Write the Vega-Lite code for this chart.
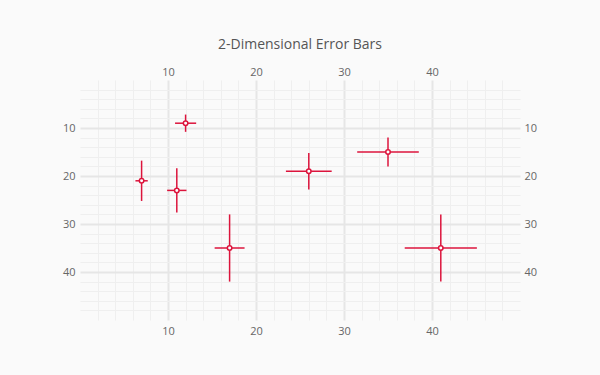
{
  "$schema": "https://vega.github.io/schema/vega-lite/v6.json",
  "width": 440,
  "height": 240,
  "autosize": "none",
  "padding": {"left": 80, "top": 80, "right": 80, "bottom": 55},
  "background": "#fafafa",
  "title": {"text": "2-Dimensional Error Bars", "font": "Open Sans", "fontSize": 14, "fontWeight": "normal", "color": "#555555", "anchor": "middle", "offset": 14},
  "config": {
    "view": {"stroke": null},
    "axis": {"labelFont": "Open Sans", "labelFontSize": 11, "labelColor": "#666666", "domain": false, "ticks": false, "title": null}
  },
  "data": {"values": [
    {"x": 12, "y": 9, "xlo": 10.8, "xhi": 13.2, "ylo": 7.2, "yhi": 10.8},
    {"x": 7, "y": 21, "xlo": 6.3, "xhi": 7.7, "ylo": 16.8, "yhi": 25.2},
    {"x": 11, "y": 23, "xlo": 9.9, "xhi": 12.1, "ylo": 18.4, "yhi": 27.6},
    {"x": 17, "y": 35, "xlo": 15.3, "xhi": 18.7, "ylo": 28, "yhi": 42},
    {"x": 26, "y": 19, "xlo": 23.4, "xhi": 28.6, "ylo": 15.2, "yhi": 22.8},
    {"x": 35, "y": 15, "xlo": 31.5, "xhi": 38.5, "ylo": 12, "yhi": 18},
    {"x": 41, "y": 35, "xlo": 36.9, "xhi": 45.1, "ylo": 28, "yhi": 42}
  ]},
  "resolve": {"axis": {"x": "independent", "y": "independent"}},
  "layer": [
    {
      "mark": {"type": "rule", "color": "#dc143c", "strokeWidth": 1.5},
      "encoding": {
        "x": {"field": "xlo", "type": "quantitative", "scale": {"domain": [0, 50], "nice": false, "zero": false},
              "axis": {"orient": "bottom", "values": [2,4,6,8,12,14,16,18,22,24,26,28,32,34,36,38,42,44,46,48], "labels": false, "grid": true, "gridColor": "#efefef", "gridWidth": 1}},
        "x2": {"field": "xhi"},
        "y": {"field": "y", "type": "quantitative", "scale": {"domain": [0, 50], "nice": false, "zero": false, "reverse": true},
              "axis": {"orient": "left", "values": [2,4,6,8,12,14,16,18,22,24,26,28,32,34,36,38,42,44,46,48], "labels": false, "grid": true, "gridColor": "#efefef", "gridWidth": 1}}
      }
    },
    {
      "mark": {"type": "rule", "color": "#dc143c", "strokeWidth": 1.5},
      "encoding": {
        "x": {"field": "x", "type": "quantitative",
              "axis": {"orient": "top", "values": [10, 20, 30, 40], "grid": true, "gridColor": "#e6e6e6", "gridWidth": 2, "labelPadding": 3}},
        "y": {"field": "ylo", "type": "quantitative",
              "axis": {"orient": "left", "values": [10, 20, 30, 40], "grid": true, "gridColor": "#e6e6e6", "gridWidth": 2, "labelPadding": 5}},
        "y2": {"field": "yhi"}
      }
    },
    {
      "mark": {"type": "point", "shape": "circle", "filled": true, "fill": "#ffffff", "stroke": "#dc143c", "strokeWidth": 1.5, "size": 20, "opacity": 1},
      "encoding": {
        "x": {"field": "x", "type": "quantitative",
              "axis": {"orient": "bottom", "values": [10, 20, 30, 40], "grid": false, "labelPadding": 5}},
        "y": {"field": "y", "type": "quantitative",
              "axis": {"orient": "right", "values": [10, 20, 30, 40], "grid": false, "labelPadding": 4}}
      }
    }
  ]
}
